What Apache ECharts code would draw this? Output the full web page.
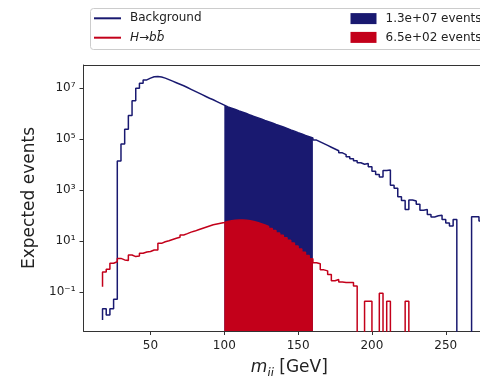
<!DOCTYPE html>
<html><head><meta charset="utf-8">
<script src="https://cdn.jsdelivr.net/npm/echarts@6/dist/echarts.min.js"></script>
<style>html,body{margin:0;padding:0;background:#fff}#c{width:480px;height:376px}</style>
</head><body><div id="c"></div>
<script>
// Step points start at 17.5 GeV, one every 2.5 GeV; value k is the level on (x[k-1], x[k]]
const binStart = 17.5;
const binWidth = 2.5;
// log10(expected events); null = no events
const bkgLog10 = [
 -2.09, -1.65, -1.89, -1.65, -1.27,
  4.15,  4.82,  5.39,  5.93,  6.51,
  7.00,  7.20,  7.33,  7.40,  7.45,
  7.46,  7.44,  7.40,  7.34,  7.28,
  7.22,  7.16,  7.10,  7.03,  6.96,
  6.89,  6.82,  6.75,  6.68,  6.61,
  6.55,  6.48,  6.41,  6.34,  6.27,
  6.22,  6.17,  6.11,  6.06,  6.01,
  5.95,  5.90,  5.85,  5.80,  5.74,
  5.69,  5.64,  5.58,  5.53,  5.48,
  5.43,  5.37,  5.32,  5.26,  5.21,
  5.15,  5.10,  5.05,  4.97,  4.90,
  4.83,  4.76,  4.69,  4.62,  4.55,
  4.47,  4.40,  4.32,  4.24,  4.16,
  4.08,  4.02,  4.05,  3.92,  3.75,
  3.62,  3.52,  3.78,  3.80,  3.20,
  3.08,  2.75,  2.60,  2.25,  2.62,
  2.58,  2.45,  2.22,  2.25,  2.05,
  1.95,  2.00,  2.02,  1.85,  1.72,
  1.60,  1.85,  null,  null,  null,
  null,  1.96,  1.96,  1.80
];
const sigLog10 = [
 -0.78, -0.20, -0.10,  0.14,  0.20,
  0.33,  0.27,  0.25,  0.46,  0.40,
  0.42,  0.53,  0.58,  0.60,  0.66,
  0.66,  0.92,  0.98,  1.02,  1.07,
  1.12,  1.16,  1.25,  1.30,  1.36,
  1.40,  1.45,  1.50,  1.55,  1.60,
  1.65,  1.68,  1.71,  1.74,  1.78,
  1.81,  1.83,  1.84,  1.84,  1.83,
  1.81,  1.78,  1.74,  1.69,  1.64,
  1.58,  1.50,  1.42,  1.33,  1.24,
  1.14,  1.04,  0.93,  0.82,  0.70,
  0.57,  0.44,  0.32,  0.16,  0.12,
 -0.12, -0.16, -0.30, -0.55, -0.50,
 -0.60, -0.62, -0.62, -0.62, -0.75,
  null,  null, -1.35, -1.35,  null,
  null, -1.04,  null, -1.35,  null,
  null,  null,  null, -1.35,  null,
  null,  null,  null,  null,  null,
  null,  null,  null,  null,  null,
  null,  null,  null,  null,  null,
  null,  null,  null,  null
];
const windowRange = [100, 160];
const xTicks = [50, 100, 150, 200, 250];
const yTicks = [-1, 1, 3, 5, 7];
const yTickLabels = ['10\u207B\u00B9', '10\u00B9', '10\u00B3', '10\u2075', '10\u2077'];
const seriesNames = ['Background', 'H\u2192bb\u0304', '1.3e+07 events', '6.5e+02 events'];

const NAVY = '#191970', RED = '#c3001a', FONT = 'DejaVu Sans', TXT = '#222', AX = '#333';
const FLOOR = -12;
const toPts = arr => arr.map((v, i) => [binStart + binWidth * i, v === null ? FLOOR : v]);
const inWin = pts => pts.filter(p => p[0] >= windowRange[0] - 1e-9 && p[0] <= windowRange[1] + 1e-9);
const bkgPts = toPts(bkgLog10), sigPts = toPts(sigLog10);

const legendText = {fontSize: 12, fontFamily: FONT, color: TXT, lineHeight: 14, padding: [0, 0, 0, 4],
  rich: {i: {fontStyle: 'italic', fontSize: 12, fontFamily: FONT, color: TXT}, n: {fontSize: 12, fontFamily: FONT, color: TXT}}};
const legFmt = name => name === seriesNames[1] ? '{i|H}{n|\u2192}{i|bb\u0304}' : name;
function leg(name, left, top, w, h) {
  return {data: [name], left, top, orient: 'vertical', padding: 0, icon: 'rect', itemWidth: w, itemHeight: h,
    selectedMode: false, textStyle: legendText, formatter: legFmt};
}
const X_MIN = 4.61, X_MAX = 273.2;

const chart = echarts.init(document.getElementById('c'), null, {renderer: 'canvas'});
chart.setOption({
  animation: false,
  backgroundColor: '#fff',
  graphic: [{type: 'rect', shape: {x: 90.5, y: 8.5, width: 540, height: 41, r: 3},
    style: {fill: '#fff', stroke: '#cccccc', lineWidth: 1}, z: 0}],
  legend: [
    leg(seriesNames[0], 94, 11.3, 27, 2),
    leg(seriesNames[1], 94, 30.7, 27, 2),
    leg(seriesNames[2], 350.5, 11.6, 26, 11),
    leg(seriesNames[3], 350.5, 30.4, 26, 11)
  ],
  grid: {left: 83.5, top: 65, right: 0, bottom: 45, show: false, containLabel: false, outerBoundsMode: 'none'},
  xAxis: [{
    type: 'value', min: X_MIN, max: X_MAX,
    name: '{m|m}{s|jj}{t| [GeV]}', nameLocation: 'middle', nameGap: 28,
    nameTextStyle: {fontFamily: FONT, color: TXT, padding: [0, 0, 0, 15], rich: {
      m: {fontSize: 17, fontStyle: 'italic', fontFamily: FONT, color: TXT, verticalAlign: 'bottom', padding: [0, 0, 4, 0]},
      s: {fontSize: 12, fontStyle: 'italic', fontFamily: FONT, color: TXT, verticalAlign: 'bottom'},
      t: {fontSize: 17, fontFamily: FONT, color: TXT, verticalAlign: 'bottom', padding: [0, 0, 4, 0]}}},
    axisLine: {show: true, onZero: false, lineStyle: {color: AX, width: 1}},
    axisTick: {show: true, length: 4, customValues: xTicks, lineStyle: {color: AX}},
    axisLabel: {customValues: xTicks, fontSize: 12, fontFamily: FONT, color: TXT, margin: 9},
    splitLine: {show: false}
  }, {
    type: 'value', min: X_MIN, max: X_MAX, position: 'top',
    axisLine: {show: true, onZero: false, lineStyle: {color: AX, width: 1}},
    axisTick: {show: false}, axisLabel: {show: false}, splitLine: {show: false}
  }],
  yAxis: {
    type: 'value', min: -2.518, max: 7.914,
    name: 'Expected events', nameLocation: 'middle', nameGap: 42, nameRotate: 90,
    nameTextStyle: {fontSize: 17, fontFamily: FONT, color: TXT},
    axisLine: {show: true, onZero: false, lineStyle: {color: AX, width: 1}},
    axisTick: {show: true, length: 4, customValues: yTicks, lineStyle: {color: AX}},
    axisLabel: {customValues: yTicks, fontSize: 12, fontFamily: FONT, color: TXT, margin: 8,
      formatter: v => yTickLabels[yTicks.indexOf(Math.round(v))]},
    splitLine: {show: false}
  },
  series: [
    {name: seriesNames[2], type: 'line', step: 'start', data: inWin(bkgPts), showSymbol: false, z: 2,
     itemStyle: {color: NAVY}, lineStyle: {width: 0, color: NAVY}, areaStyle: {color: NAVY, opacity: 1, origin: 'start'}},
    {name: seriesNames[3], type: 'line', step: 'start', data: inWin(sigPts), showSymbol: false, z: 3,
     itemStyle: {color: RED}, lineStyle: {width: 0, color: RED}, areaStyle: {color: RED, opacity: 1, origin: 'start'}},
    {name: seriesNames[0], type: 'line', step: 'start', data: bkgPts, showSymbol: false, z: 4, clip: true,
     itemStyle: {color: NAVY}, lineStyle: {width: 1.5, color: NAVY}},
    {name: seriesNames[1], type: 'line', step: 'start', data: sigPts, showSymbol: false, z: 5, clip: true,
     itemStyle: {color: RED}, lineStyle: {width: 1.5, color: RED}}
  ]
});
</script></body></html>
